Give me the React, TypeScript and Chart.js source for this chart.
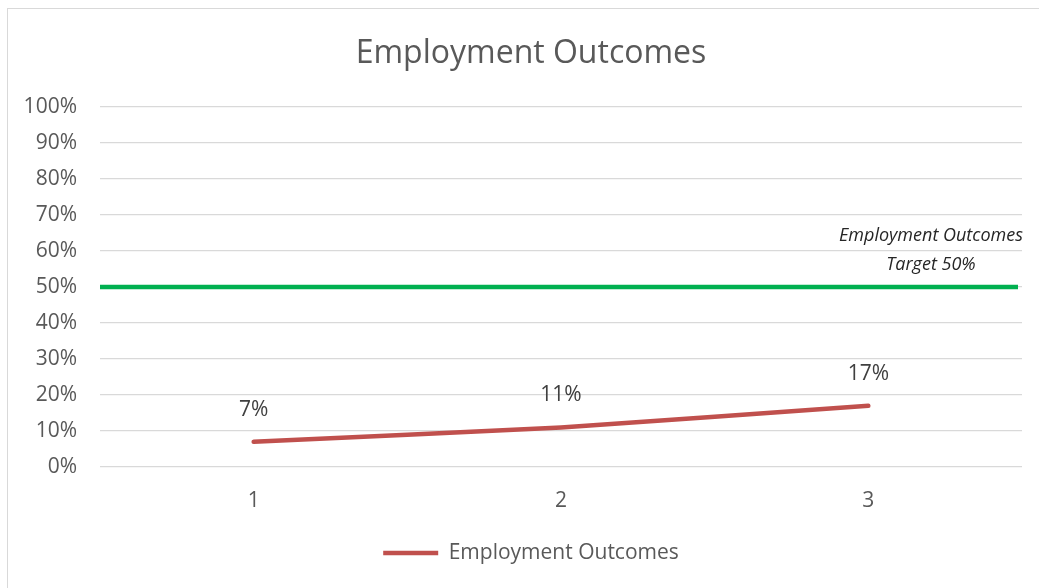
import React, { useEffect, useRef } from "react";
import { Chart, registerables } from "chart.js";

Chart.register(...registerables);

const TITLE = "Employment Outcomes";
const CATEGORIES = ["1", "2", "3"];
const SERIES_NAME = "Employment Outcomes";
const SERIES_VALUES = [7, 11, 17];
const TARGET_VALUE = 50;
const ANNOTATION_LINES = ["Employment Outcomes", "Target 50%"];
const Y_MIN = 0;
const Y_MAX = 100;
const Y_STEP = 10;

const FONT = "'Open Sans', 'Noto Sans', sans-serif";

const targetPlugin = {
  id: "targetLine",
  beforeDatasetsDraw(chart: any) {
    const { ctx, chartArea, scales } = chart;
    const y = scales.y.getPixelForValue(TARGET_VALUE);
    ctx.save();
    ctx.strokeStyle = "#00b050";
    ctx.lineWidth = 4.5;
    ctx.lineCap = "butt";
    ctx.beginPath();
    ctx.moveTo(chartArea.left, y);
    ctx.lineTo(chartArea.right - 4, y);
    ctx.stroke();
    ctx.font = `italic 18px ${FONT}`;
    ctx.fillStyle = "#262626";
    ctx.textAlign = "center";
    ctx.textBaseline = "middle";
    const cx = chartArea.right - 91;
    ctx.fillText(ANNOTATION_LINES[0], cx, y - 51);
    ctx.fillText(ANNOTATION_LINES[1], cx, y - 22);
    ctx.restore();
  },
};

const labelPlugin = {
  id: "dataLabels",
  afterDatasetsDraw(chart: any) {
    const { ctx } = chart;
    const meta = chart.getDatasetMeta(0);
    ctx.save();
    ctx.font = `21px ${FONT}`;
    ctx.fillStyle = "#404040";
    ctx.textAlign = "center";
    ctx.textBaseline = "middle";
    meta.data.forEach((pt: any, i: number) => {
      ctx.fillText(SERIES_VALUES[i] + "%", pt.x, pt.y - 32);
    });
    ctx.restore();
  },
};

export default function App() {
  const ref = useRef<HTMLCanvasElement>(null);
  useEffect(() => {
    document.documentElement.style.overflow = "hidden";
    document.body.style.overflow = "hidden";
    if (!ref.current) return;
    const chart = new Chart(ref.current, {
      type: "line",
      data: {
        labels: CATEGORIES,
        datasets: [
          {
            label: SERIES_NAME,
            data: SERIES_VALUES,
            borderColor: "#c0504d",
            backgroundColor: "#c0504d",
            borderWidth: 4.5,
            borderCapStyle: "round",
            borderJoinStyle: "round",
            pointRadius: 0,
            pointHoverRadius: 0,
            tension: 0.2,
            fill: false,
          },
        ],
      },
      options: {
        animation: false,
        responsive: false,
        maintainAspectRatio: false,
        layout: { padding: { top: 0, left: 0, right: 0, bottom: 14.5 } },
        plugins: {
          title: {
            display: true,
            text: TITLE,
            color: "#595959",
            font: { family: FONT, size: 32, weight: "normal", lineHeight: 1.2 },
            padding: { top: 25.5, bottom: 34.1 },
          },
          legend: {
            display: true,
            position: "bottom",
            labels: {
              usePointStyle: true,
              pointStyle: "line",
              pointStyleWidth: 55,
              color: "#595959",
              font: { family: FONT, size: 21 },
              padding: 10,
            },
          },
          tooltip: { enabled: false },
        },
        scales: {
          x: {
            type: "category",
            offset: true,
            grid: { display: false, drawTicks: false },
            border: { display: false },
            ticks: {
              color: "#595959",
              font: { family: FONT, size: 21 },
              padding: 21,
              maxRotation: 0,
            },
            afterFit(scale: any) {
              scale.height = 65.5;
            },
          },
          y: {
            min: Y_MIN,
            max: Y_MAX,
            grid: { color: "#d9d9d9", lineWidth: 1.3, drawTicks: false },
            border: { display: false },
            ticks: {
              stepSize: Y_STEP,
              color: "#595959",
              font: { family: FONT, size: 21 },
              padding: 23,
              callback: (v: any) => v + "%",
            },
            afterFit(scale: any) {
              scale.width = 92;
            },
          },
          yRight: {
            position: "right",
            display: true,
            min: Y_MIN,
            max: Y_MAX,
            grid: { display: false, drawTicks: false },
            border: { display: false },
            ticks: { display: false },
            afterFit(scale: any) {
              scale.width = 32;
            },
          },
        },
      },
      plugins: [targetPlugin, labelPlugin],
    });
    return () => chart.destroy();
  }, []);

  return (
    <div
      style={{
        position: "fixed",
        left: 7,
        top: 8,
        width: 1032,
        height: 580,
        borderTop: "1px solid #d9d9d9",
        borderLeft: "1px solid #d9d9d9",
        boxSizing: "border-box",
        overflow: "hidden",
        background: "#fff",
      }}
    >
      <canvas ref={ref} width={1046} height={579} style={{ display: "block", width: 1046, height: 579 }} />
    </div>
  );
}
